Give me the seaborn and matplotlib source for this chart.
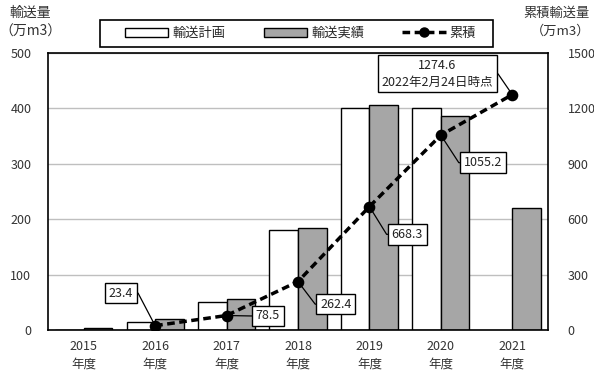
import numpy as np
import pandas as pd
import matplotlib
matplotlib.use("Agg")
import matplotlib.pyplot as plt
from matplotlib.patches import Patch, Rectangle
from matplotlib.lines import Line2D
import seaborn as sns

sns.set_theme(style="white")
plt.rcParams['font.family'] = ['Noto Sans CJK JP', 'DejaVu Sans']

# 年度別の輸送量（万m3）
years = ["2015", "2016", "2017", "2018", "2019", "2020", "2021"]
year_labels = [f"{y}\n年度" for y in years]
plan = [0, 15, 50, 180, 400, 400, np.nan]
actual = [3.4, 20.0, 55.1, 183.9, 405.9, 386.9, 219.4]
# 累積輸送量（万m3）
cum_years = ["2016", "2017", "2018", "2019", "2020", "2021"]
cumulative = [23.4, 78.5, 262.4, 668.3, 1055.2, 1274.6]
cum_labels = ["23.4", "78.5", "262.4", "668.3", "1055.2", "1274.6\n2022年2月24日時点"]

series_names = ["輸送計画", "輸送実績", "累積"]
bar_colors = ["white", "#a6a6a6"]

df = pd.DataFrame({
    "year": years * 2,
    "value": plan + actual,
    "series": [series_names[0]] * len(years) + [series_names[1]] * len(years),
})

fig = plt.figure(figsize=(5.94, 3.8), dpi=100)
ax = fig.add_axes([48 / 594, 1 - 330 / 380, 500 / 594, 277 / 380])

sns.barplot(data=df, x="year", y="value", hue="series", order=years,
            hue_order=series_names[:2], palette=bar_colors, saturation=1,
            edgecolor="black", linewidth=1.0, width=0.8, legend=False, ax=ax)

ax.set_ylim(0, 500)
ax.set_yticks(range(0, 501, 100))
ax.yaxis.grid(True, color="#bfbfbf", linewidth=1.0)
ax.set_axisbelow(True)
ax.set_xlabel("")
ax.set_ylabel("")
ax.set_xticks(range(len(years)))
ax.set_xticklabels(year_labels, fontsize=9, linespacing=1.45)
ax.tick_params(axis="both", length=0, labelsize=9, colors="#333333")
ax.tick_params(axis="x", pad=7)
ax.tick_params(axis="y", pad=12)
for s in ax.spines.values():
    s.set_color("black")
    s.set_linewidth(1.2)

ax2 = ax.twinx()
sns.pointplot(x=cum_years, y=cumulative, order=years, color="black",
              markers="o", linestyles=(0, (2.2, 1.3)), errorbar=None,
              markersize=6.5, linewidth=2.5, ax=ax2)
ax2.set_xlim(-0.5, len(years) - 0.5)
ax2.set_ylim(0, 1500)
ax2.set_yticks(range(0, 1501, 300))
ax2.tick_params(axis="y", length=0, labelsize=9, colors="#333333", pad=14)
ax2.set_ylabel("")
for s in ax2.spines.values():
    s.set_visible(False)

# 値ラベル（テキスト位置・引出線の向き）
label_pos = [(0.52, 200), (2.58, 76), (3.53, 140), (4.53, 518), (5.59, 906), (4.95, 1387)]
label_side = ["right", "left", "left", "left", "left", "right"]
for i, (yr, val, txt) in enumerate(zip(cum_years, cumulative, cum_labels)):
    xi = years.index(yr)
    if label_side[i] == "right":
        rel, conn = (1, 0.5), "arc,angleA=0,armA=5,angleB=0,armB=0,rad=0"
    else:
        rel, conn = (0, 0.5), "arc,angleA=180,armA=5,angleB=0,armB=0,rad=0"
    ax2.annotate(txt, xy=(xi, val), xytext=label_pos[i], textcoords="data",
                 ha="center", va="center", fontsize=9, color="#222222",
                 linespacing=1.35, zorder=5,
                 bbox=dict(boxstyle="square,pad=0.3", fc="white", ec="black", lw=1.0),
                 arrowprops=dict(arrowstyle="-", color="black", lw=0.9,
                                 relpos=rel, connectionstyle=conn,
                                 shrinkA=0, shrinkB=0, patchA=None))

# 凡例（枠は別に描く）
handles = [
    Patch(facecolor=bar_colors[0], edgecolor="black", linewidth=1.0),
    Patch(facecolor=bar_colors[1], edgecolor="black", linewidth=1.0),
    Line2D([], [], color="black", linestyle=(0, (2.2, 1.3)), linewidth=2.5,
           marker="o", markersize=6.5),
]
fig.patches.append(Rectangle((100 / 594, 1 - 47 / 380), 393 / 594, 27 / 380,
                             transform=fig.transFigure, fill=False,
                             edgecolor="black", linewidth=1.2))
fig.legend(handles, series_names, loc="center", bbox_to_anchor=(0.506, 0.912),
           ncol=3, frameon=False, fontsize=9.5, handlelength=3.3,
           handleheight=0.7, columnspacing=2.9, borderpad=0.3,
           handletextpad=0.3, borderaxespad=0.0)

# 軸タイトル
fig.text(30 / 594, 1 - 22 / 380, "輸送量\n（万m3）", ha="center", va="center",
         fontsize=10, linespacing=1.45, color="#333333")
fig.text(590 / 594, 1 - 22 / 380, "累積輸送量\n（万m3）", ha="right", va="center",
         fontsize=9.5, linespacing=1.5, color="#333333", multialignment="right")

fig.savefig("out.png", dpi=100)
